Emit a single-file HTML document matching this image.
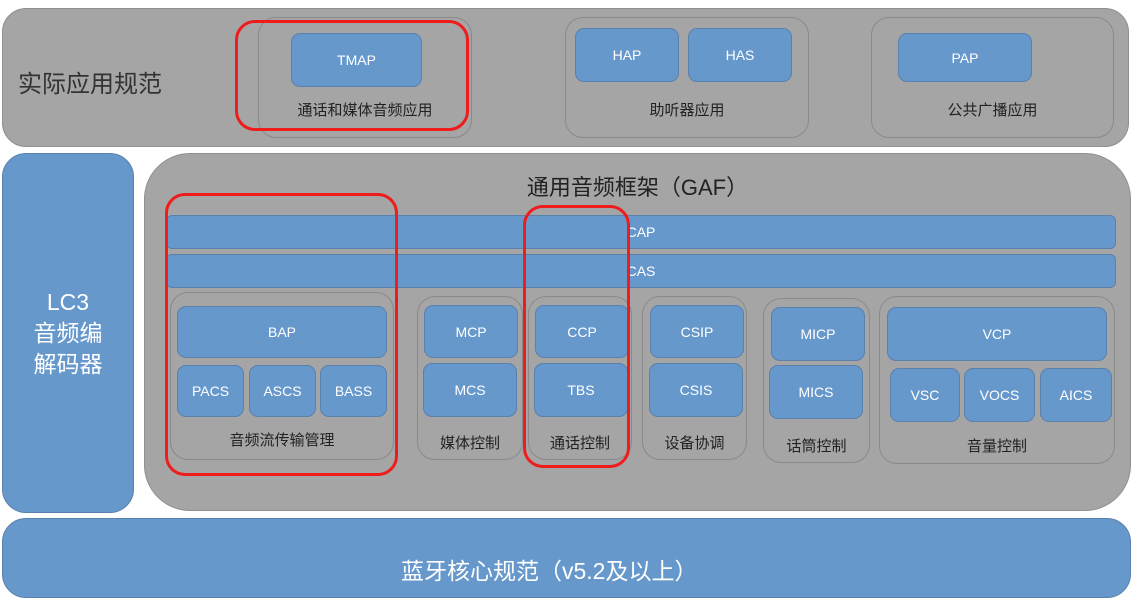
<!DOCTYPE html>
<html><head><meta charset="utf-8"><style>
body{margin:0;width:1136px;height:585px;background:#fff;position:relative;overflow:hidden;font-family:"Liberation Sans","Noto Sans CJK SC",sans-serif}
div{position:absolute;box-sizing:border-box}
.big{background:#a5a5a5;border:1.5px solid #8f8f8f}
.g{border:1.5px solid #8a8a8a;border-radius:18px}
.b{background:#6798cc;border:1.5px solid #5a80ad;border-radius:9px;color:#fff;font-size:14px;display:flex;align-items:center;justify-content:center;text-align:center}
.r{border:3px solid #ee1c1c;border-radius:20px}
.t{color:#222;font-size:15px;text-align:center;white-space:nowrap}
</style></head><body>
<div class="big" style="left:2px;top:8px;width:1127px;height:139px;border-radius:24px"></div>
<div class="t" style="left:18px;top:64px;font-size:24px;color:#333">实际应用规范</div>

<div class="g" style="left:258px;top:17px;width:214px;height:121px"></div>
<div class="b" style="left:291px;top:33px;width:131px;height:54px">TMAP</div>
<div class="t" style="left:258px;top:99px;width:214px">通话和媒体音频应用</div>

<div class="g" style="left:565px;top:17px;width:244px;height:121px"></div>
<div class="b" style="left:575px;top:28px;width:104px;height:54px">HAP</div>
<div class="b" style="left:688px;top:28px;width:104px;height:54px">HAS</div>
<div class="t" style="left:565px;top:99px;width:244px">助听器应用</div>

<div class="g" style="left:871px;top:17px;width:243px;height:121px"></div>
<div class="b" style="left:898px;top:33px;width:134px;height:49px">PAP</div>
<div class="t" style="left:871px;top:99px;width:243px">公共广播应用</div>

<div class="b" style="left:2px;top:153px;width:132px;height:360px;border-radius:24px;font-size:23px;line-height:31px"><span>LC3<br>音频编<br>解码器</span></div>

<div class="big" style="left:144px;top:153px;width:987px;height:358px;border-radius:46px"></div>
<div class="t" style="left:144px;top:170px;width:987px;font-size:22px;color:#222">通用音频框架（GAF）</div>
<div class="b" style="left:166px;top:215px;width:950px;height:34px;border-radius:6px">CAP</div>
<div class="b" style="left:166px;top:254px;width:950px;height:34px;border-radius:6px">CAS</div>

<div class="g" style="left:170px;top:292px;width:224px;height:168px"></div>
<div class="b" style="left:177px;top:306px;width:210px;height:52px">BAP</div>
<div class="b" style="left:177px;top:365px;width:67px;height:52px">PACS</div>
<div class="b" style="left:249px;top:365px;width:67px;height:52px">ASCS</div>
<div class="b" style="left:320px;top:365px;width:67px;height:52px">BASS</div>
<div class="t" style="left:170px;top:429px;width:224px">音频流传输管理</div>

<div class="g" style="left:417px;top:296px;width:106px;height:164px"></div>
<div class="b" style="left:424px;top:305px;width:94px;height:53px">MCP</div>
<div class="b" style="left:423px;top:363px;width:94px;height:54px">MCS</div>
<div class="t" style="left:417px;top:432px;width:106px">媒体控制</div>

<div class="g" style="left:528px;top:296px;width:104px;height:164px"></div>
<div class="b" style="left:535px;top:305px;width:94px;height:53px">CCP</div>
<div class="b" style="left:534px;top:363px;width:94px;height:54px">TBS</div>
<div class="t" style="left:528px;top:432px;width:104px">通话控制</div>

<div class="g" style="left:642px;top:296px;width:105px;height:164px"></div>
<div class="b" style="left:650px;top:305px;width:94px;height:53px">CSIP</div>
<div class="b" style="left:649px;top:363px;width:94px;height:54px">CSIS</div>
<div class="t" style="left:642px;top:432px;width:105px">设备协调</div>

<div class="g" style="left:763px;top:298px;width:107px;height:165px"></div>
<div class="b" style="left:771px;top:307px;width:94px;height:54px">MICP</div>
<div class="b" style="left:769px;top:365px;width:94px;height:54px">MICS</div>
<div class="t" style="left:763px;top:435px;width:107px">话筒控制</div>

<div class="g" style="left:879px;top:296px;width:236px;height:168px"></div>
<div class="b" style="left:887px;top:307px;width:220px;height:54px">VCP</div>
<div class="b" style="left:890px;top:368px;width:70px;height:54px">VSC</div>
<div class="b" style="left:964px;top:368px;width:71px;height:54px">VOCS</div>
<div class="b" style="left:1040px;top:368px;width:72px;height:54px">AICS</div>
<div class="t" style="left:879px;top:435px;width:236px">音量控制</div>

<div class="b" style="left:2px;top:518px;width:1129px;height:80px;border-radius:24px;font-size:23px;align-items:flex-start;justify-content:flex-start;padding-top:33px;padding-left:398px">蓝牙核心规范（v5.2及以上）</div>

<div class="r" style="left:235px;top:20px;width:234px;height:111px"></div>
<div class="r" style="left:165px;top:193px;width:233px;height:283px"></div>
<div class="r" style="left:523px;top:205px;width:107px;height:263px"></div>
</body></html>
